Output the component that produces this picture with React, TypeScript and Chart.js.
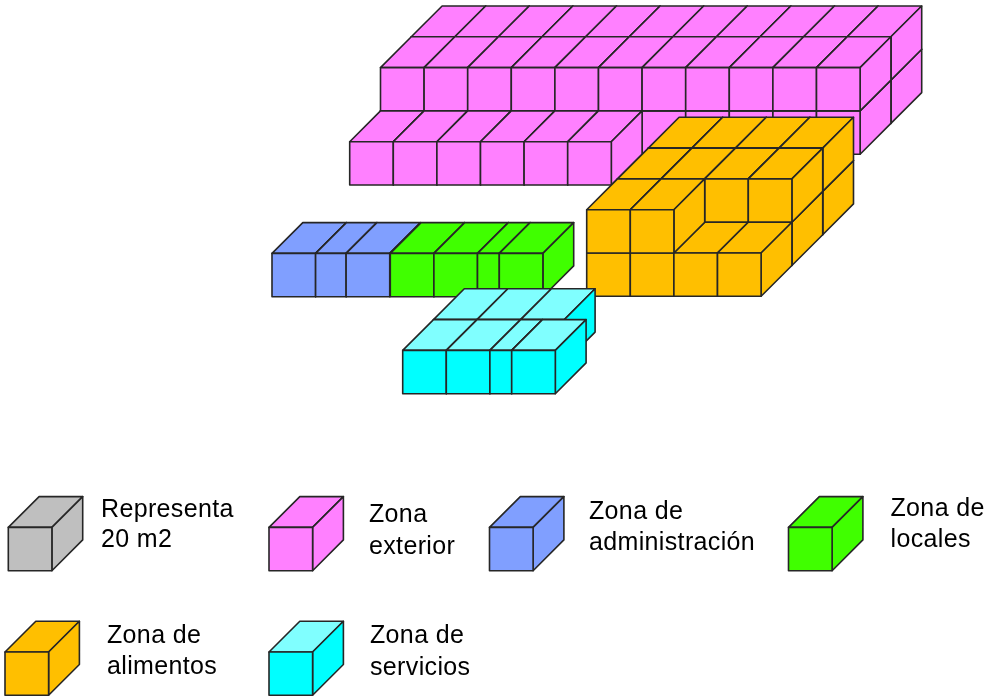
import React, { useEffect, useRef } from "react";
import { Chart, registerables } from "chart.js";

Chart.register(...registerables);

// ---- Data: each block's floor area along the front (m2), by row ----
const exteriorFrontRow = [20, 20, 20, 20, 20, 20];
const exteriorRearRow = [20, 20, 20, 20, 20, 20, 20, 20, 20, 20, 20];
const adminRow = [20, 14, 20];
const localesRow = [20, 20, 10, 20];
const foodFullRow = [20, 20, 20, 20];
const foodShortRow = [20, 20];
const servicesFrontRow = [20, 20, 10, 20];
const servicesRearRow = [20, 20, 20];
const legendBlock = [20];

const legendLabels = [
  ["Representa", "20 m2"],
  ["Zona", "exterior"],
  ["Zona de", "administración"],
  ["Zona de", "locales"],
  ["Zona de", "alimentos"],
  ["Zona de", "servicios"],
];

// ---- Layout ----
const W = 988;
const H = 697;
const PX_PER_M2 = 43.6 / 20;
const PX_PER_LEVEL = 43.3;
const DEPTH_PX = 30.8;
const depthX = DEPTH_PX / PX_PER_M2;
const depthY = DEPTH_PX / PX_PER_LEVEL;
const toX = (px: number) => px / PX_PER_M2;
const toY = (py: number) => (H - py) / PX_PER_LEVEL;

type Row = { areas: number[]; depth: number; level: number };
type Zone = {
  name: string;
  ox: number;
  oy: number;
  front: string;
  top: string;
  side: string;
  rows: Row[];
};

const PINK = "#FF80FF";
const BLUE = "#809FFF";
const GREEN = "#40FF00";
const ORANGE = "#FFBF00";
const CYAN = "#00FFFF";
const CYAN_TOP = "#80FFFF";
const GRAY = "#BFBFBF";

const rows = (list: [number[], number, number][]): Row[] =>
  list.map(([areas, depth, level]) => ({ areas, depth, level }));

const zones: Zone[] = [
  {
    name: "Zona exterior",
    ox: 349.7,
    oy: 185,
    front: PINK,
    top: PINK,
    side: PINK,
    rows: rows([
      [exteriorRearRow, 2, 0],
      [exteriorRearRow, 2, 1],
      [exteriorRearRow, 1, 0],
      [exteriorRearRow, 1, 1],
      [exteriorFrontRow, 0, 0],
    ]),
  },
  { name: "Zona de administración", ox: 272, oy: 296.7, front: BLUE, top: BLUE, side: BLUE, rows: rows([[adminRow, 0, 0]]) },
  { name: "Zona de locales", ox: 390.3, oy: 296.7, front: GREEN, top: GREEN, side: GREEN, rows: rows([[localesRow, 0, 0]]) },
  {
    name: "Zona de alimentos",
    ox: 586.7,
    oy: 296.3,
    front: ORANGE,
    top: ORANGE,
    side: ORANGE,
    rows: rows([
      [foodFullRow, 2, 0],
      [foodFullRow, 2, 1],
      [foodFullRow, 1, 0],
      [foodFullRow, 1, 1],
      [foodFullRow, 0, 0],
      [foodShortRow, 0, 1],
    ]),
  },
  {
    name: "Zona de servicios",
    ox: 402.7,
    oy: 393.7,
    front: CYAN,
    top: CYAN_TOP,
    side: CYAN,
    rows: rows([
      [servicesRearRow, 1, 0],
      [servicesFrontRow, 0, 0],
    ]),
  },
  { name: "Representa 20 m2", ox: 8.3, oy: 570.7, front: GRAY, top: GRAY, side: GRAY, rows: rows([[legendBlock, 0, 0]]) },
  { name: "Leyenda exterior", ox: 269, oy: 570.7, front: PINK, top: PINK, side: PINK, rows: rows([[legendBlock, 0, 0]]) },
  { name: "Leyenda administración", ox: 489.5, oy: 570.7, front: BLUE, top: BLUE, side: BLUE, rows: rows([[legendBlock, 0, 0]]) },
  { name: "Leyenda locales", ox: 788.5, oy: 570.7, front: GREEN, top: GREEN, side: GREEN, rows: rows([[legendBlock, 0, 0]]) },
  { name: "Leyenda alimentos", ox: 5, oy: 695.3, front: ORANGE, top: ORANGE, side: ORANGE, rows: rows([[legendBlock, 0, 0]]) },
  { name: "Leyenda servicios", ox: 269, oy: 695.3, front: CYAN, top: CYAN_TOP, side: CYAN, rows: rows([[legendBlock, 0, 0]]) },
];

// [x, first baseline, second baseline]
const labelPlaces = [
  [101, 516.5, 547.3],
  [369, 521.7, 554],
  [589, 519.3, 550],
  [890.5, 516, 546.7],
  [107, 643.3, 674],
  [370, 643.3, 675],
];

const cubeDatasets = zones.map((zone) => {
  const data: any[] = [];
  zone.rows.forEach((row) => {
    let run = 0;
    row.areas.forEach((area) => {
      data.push({
        x: toX(zone.ox) + run,
        y: toY(zone.oy) + row.level,
        area,
        depth: row.depth,
      });
      run += area;
    });
  });
  return {
    label: zone.name,
    data,
    pointRadius: 0,
    showLine: false,
    backgroundColor: zone.front,
    cubeFront: zone.front,
    cubeTop: zone.top,
    cubeSide: zone.side,
  };
});

const cubePlugin = {
  id: "cubes",
  afterDatasetsDraw(chart: any) {
    const { ctx, scales } = chart;
    const sx = scales.x;
    const sy = scales.y;
    ctx.save();
    ctx.lineWidth = 1.6;
    ctx.lineJoin = "round";
    ctx.strokeStyle = "#262626";
    const face = (pts: number[][], fill: string) => {
      ctx.beginPath();
      pts.forEach(([a, b], i) => (i ? ctx.lineTo(a, b) : ctx.moveTo(a, b)));
      ctx.closePath();
      ctx.fillStyle = fill;
      ctx.fill();
      ctx.stroke();
    };
    chart.data.datasets.forEach((ds: any) => {
      ds.data.forEach((c: any) => {
        const bx = c.x + c.depth * depthX;
        const by = c.y + c.depth * depthY;
        const x0 = sx.getPixelForValue(bx);
        const x1 = sx.getPixelForValue(bx + c.area);
        const x2 = sx.getPixelForValue(bx + depthX);
        const x3 = sx.getPixelForValue(bx + c.area + depthX);
        const y0 = sy.getPixelForValue(by);
        const y1 = sy.getPixelForValue(by + 1);
        const y2 = sy.getPixelForValue(by + 1 + depthY);
        const y3 = sy.getPixelForValue(by + depthY);
        face([[x0, y1], [x1, y1], [x3, y2], [x2, y2]], ds.cubeTop);
        face([[x1, y0], [x3, y3], [x3, y2], [x1, y1]], ds.cubeSide);
        face([[x0, y0], [x1, y0], [x1, y1], [x0, y1]], ds.cubeFront);
      });
    });
    ctx.fillStyle = "#000";
    ctx.font = '25px "Liberation Sans", Arial, sans-serif';
    (ctx as any).letterSpacing = "0.35px";
    ctx.textBaseline = "alphabetic";
    ctx.textAlign = "left";
    legendLabels.forEach((lines, i) => {
      const [x, b1, b2] = labelPlaces[i];
      ctx.fillText(lines[0], x, b1);
      ctx.fillText(lines[1], x, b2);
    });
    ctx.restore();
  },
};

export default function App() {
  const ref = useRef<HTMLCanvasElement>(null);
  useEffect(() => {
    const chart = new Chart(ref.current as HTMLCanvasElement, {
      type: "scatter",
      data: { datasets: cubeDatasets as any },
      options: {
        animation: false,
        responsive: false,
        devicePixelRatio: 1,
        layout: { padding: 0 },
        plugins: { legend: { display: false }, tooltip: { enabled: false }, title: { display: false } },
        scales: {
          x: { type: "linear", display: false, min: 0, max: W / PX_PER_M2 },
          y: { type: "linear", display: false, min: 0, max: H / PX_PER_LEVEL },
        },
      },
      plugins: [cubePlugin],
    } as any);
    return () => chart.destroy();
  }, []);
  return (
    <div style={{ position: "absolute", left: 0, top: 0, width: W, height: H, background: "#fff" }}>
      <canvas ref={ref} width={W} height={H} style={{ display: "block" }} />
    </div>
  );
}
